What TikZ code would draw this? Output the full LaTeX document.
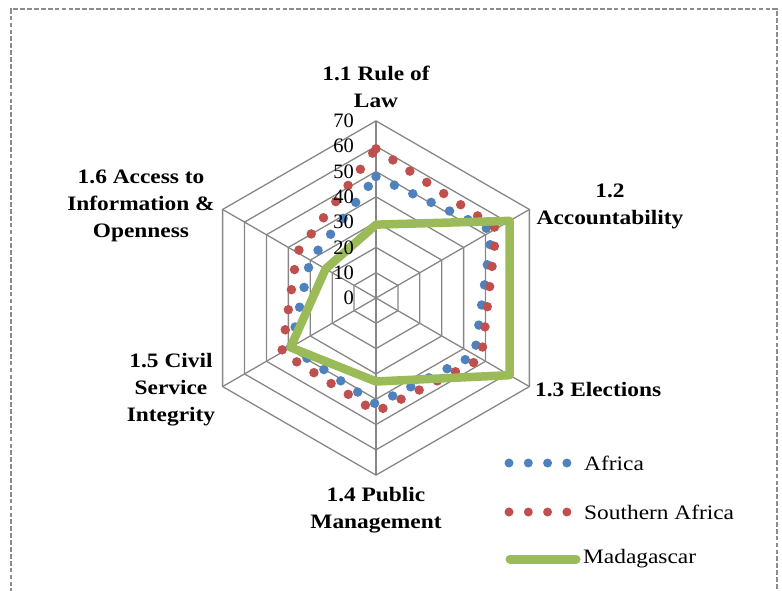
\documentclass[tikz,border=0pt]{standalone}
\usepackage{fontspec}
\setmainfont{Liberation Serif}[FakeStretch=1.14]
\newfontfamily\numfont{Liberation Serif}
\begin{document}
\begin{tikzpicture}[x=1pt,y=1pt,
  gridline/.style={draw=black!47,line width=1.3pt},
  frameline/.style={draw=black!45,line width=1.4pt,dash pattern=on 4.7pt off 2.2pt},
  catlabel/.style={font=\bfseries\fontsize{20.5}{27}\selectfont,align=center,inner sep=0pt},
  numlabel/.style={font=\numfont\fontsize{20.5}{24}\selectfont,anchor=east,inner sep=0pt},
  legtext/.style={font=\fontsize{20.5}{24}\selectfont,anchor=west,inner sep=0pt},
  dotline/.style={line width=9.5pt,line cap=round,dash pattern=on 0pt off 20.3pt},
  legdots/.style={line width=9pt,line cap=round,dash pattern=on 0pt off 19.3pt},
  africa/.style={draw=afblue},
  safrica/.style={draw=safred},
  madag/.style={draw=madgreen,line width=8.5pt,line join=round,line cap=round}]
\definecolor{afblue}{HTML}{4F81BD}
\definecolor{safred}{HTML}{C0504D}
\definecolor{madgreen}{HTML}{9BBB59}
\useasboundingbox (0,0) rectangle (782,-590);
\clip (0,0) rectangle (782,-590);
% frame
\draw[frameline] (11,-600) -- (11,-9) -- (777,-9) -- (777,-600);
% radar
\begin{scope}[shift={(376,-298)}]
  \def\s{2.53}
  \foreach \v in {10,20,...,70}{
    \draw[gridline] (90:\s*\v) -- (30:\s*\v) -- (-30:\s*\v) -- (-90:\s*\v) -- (210:\s*\v) -- (150:\s*\v) -- cycle;
  }
  \foreach \a in {90,30,-30,-90,210,150}{
    \draw[gridline] (0,0) -- (\a:\s*70);
  }
  % Africa
  \draw[africa,dotline] (90:\s*48) -- (30:\s*53) -- (-30:\s*45) -- (-90:\s*42) -- (210:\s*39) -- (150:\s*30) -- cycle;
  % Southern Africa
  \draw[safrica,dotline] (90:\s*59) -- (30:\s*55) -- (-30:\s*48) -- (-90:\s*45) -- (210:\s*43) -- (150:\s*36) -- cycle;
  % Madagascar
  \draw[madag] (90:\s*29) -- (30:\s*61) -- (-30:\s*61) -- (-90:\s*33) -- (210:\s*39) -- (150:\s*23) -- cycle;
\end{scope}
% axis numbers
\foreach \v in {0,10,...,70}{
  \node[numlabel] (n\v) at (354,{-298+2.53*\v}) {\v};
}
% category labels
\node[catlabel] (c1) at (376,-86.5) {1.1 Rule of\\Law};
\node[catlabel] (c2) at (610,-206) {1.2\\Accountability};
\node[catlabel,anchor=west] (c3) at (535,-390) {1.3 Elections};
\node[catlabel] (c4) at (376,-510) {1.4 Public\\Management};
\node[catlabel] (c5) at (171,-390) {1.5 Civil\\Service\\Integrity};
\node[catlabel] (c6) at (141,-206) {1.6 Access to\\Information \&\\Openness};
% legend
\draw[africa,legdots] (509,-463) -- (568,-463);
\node[legtext] (l1) at (584,-463) {Africa};
\draw[safrica,legdots] (509,-512) -- (568,-512);
\node[legtext] (l2) at (584,-512) {Southern Africa};
\draw[madag,line width=9pt] (510,-559) -- (576,-559);
\node[legtext] (l3) at (583,-559) {Madagascar};
\end{tikzpicture}
\end{document}
